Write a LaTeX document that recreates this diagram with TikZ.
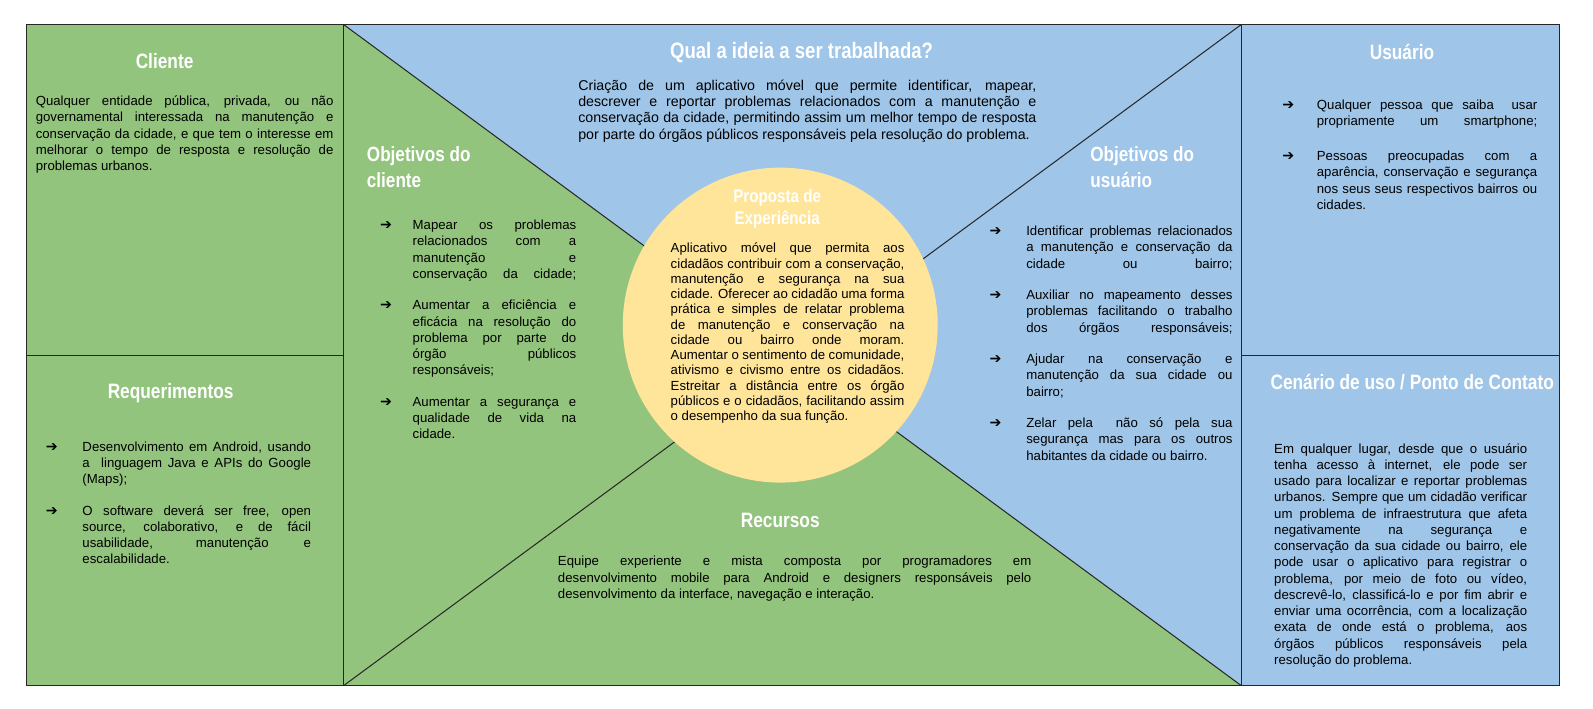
\documentclass[tikz,border=0pt]{standalone}
\usepackage{fontspec}
\setmainfont{Liberation Sans}
\newfontfamily\headfont[FakeStretch=0.83]{Liberation Sans}
\newfontfamily\arrowfont{DejaVu Sans}
\definecolor{canvasgreen}{HTML}{93C47D}
\definecolor{canvasblue}{HTML}{9FC5E8}
\definecolor{canvasyellow}{HTML}{FFE599}
\newcommand{\justlast}{{\parfillskip=0pt\par}}
\tolerance=10000
\hyphenpenalty=10000
\begin{document}
\begin{tikzpicture}[x=1pt, y=-1pt,
  frame/.style={draw=black!85, line width=1pt},
  head/.style={font=\headfont\bfseries\fontsize{20.5}{25}\selectfont, text=white, inner sep=0pt, anchor=base},
  body/.style={font=\fontsize{13}{16}\selectfont, align=justify, text width=#1, inner sep=0pt, anchor=base west},
  pointer/.style={font=\arrowfont\fontsize{14}{16}\selectfont, inner sep=0pt, anchor=base west}
]
\useasboundingbox (0,0) rectangle (1568,697);
\fill[white] (0,0) rectangle (1568,697);
% corners of the middle block
\coordinate (tl) at (338,24);
\coordinate (tr) at (1222,24);
\coordinate (bl) at (338,675);
\coordinate (br) at (1222,675);
\coordinate (mid) at (780,349.5);
% side columns
\draw[frame, fill=canvasgreen] (26,24) rectangle (338,350);
\draw[frame, fill=canvasgreen] (26,350) rectangle (338,675);
\draw[frame, fill=canvasblue] (1222,24) rectangle (1535,350);
\draw[frame, fill=canvasblue] (1222,350) rectangle (1535,675);
% middle block
\fill[canvasblue] (tl) -- (tr) -- (mid) -- cycle;
\fill[canvasblue] (tr) -- (br) -- (mid) -- cycle;
\fill[canvasgreen] (tl) -- (bl) -- (mid) -- cycle;
\fill[canvasgreen] (bl) -- (br) -- (mid) -- cycle;
\draw[frame] (tl) -- (mid) -- (br);
\draw[frame] (tr) -- (mid) -- (bl);
\draw[frame] (tl) rectangle (br);
\node[circle, fill=canvasyellow, minimum size=310, inner sep=0pt] (prop) at (768,320) {};

% titles
\node[head] (cliente) at (162,67) {Cliente};
\node[head] (req) at (168,392) {Requerimentos};
\node[head, font=\headfont\bfseries\fontsize{22}{26}\selectfont] (ideia) at (789,58) {Qual a ideia a ser trabalhada?};
\node[head, anchor=north west, align=left, font=\headfont\bfseries\fontsize{20.3}{26}\selectfont] (objcli) at (361,144) {Objetivos do\\cliente};
\node[head, anchor=north, align=center, font=\headfont\bfseries\fontsize{18}{22}\selectfont] (proptitle) at (765,186) {Proposta de\\Experiência};
\node[head, anchor=north west, align=left, font=\headfont\bfseries\fontsize{20.3}{26}\selectfont] (objusu) at (1073,144) {Objetivos do\\usuário};
\node[head] (usuario) at (1380,59) {Usuário};
\node[head] (cenario) at (1390,383) {Cenário de uso / Ponto de Contato};
\node[head] (recursos) at (768,519) {Recursos};

% plain paragraphs
\node[body=293] (clientetxt) at (35,104) {Qualquer entidade pública, privada, ou não\linebreak governamental interessada na manutenção e\linebreak conservação da cidade, e que tem o interesse em\linebreak melhorar o tempo de resposta e resolução de\linebreak problemas urbanos.};
\node[body=451, font=\fontsize{14}{16}\selectfont] (ideiatxt) at (569,89) {Criação de um aplicativo móvel que permite identificar, mapear,\linebreak descrever e reportar problemas relacionados com a manutenção e\linebreak conservação da cidade, permitindo assim um melhor tempo de resposta\linebreak por parte do órgãos públicos responsáveis pela resolução do problema.};
\node[body=230, font=\fontsize{13}{15}\selectfont] (proptxt) at (660,249) {Aplicativo móvel que permita aos\linebreak cidadãos contribuir com a conservação,\linebreak manutenção e segurança na sua\linebreak cidade. Oferecer ao cidadão uma forma\linebreak prática e simples de relatar problema\linebreak de manutenção e conservação na\linebreak cidade ou bairro onde moram.\linebreak Aumentar o sentimento de comunidade,\linebreak ativismo e civismo entre os cidadãos.\linebreak Estreitar a distância entre os órgão\linebreak públicos e o cidadãos, facilitando assim\linebreak o desempenho da sua função.};
\node[body=249] (cenariotxt) at (1254,446) {Em qualquer lugar, desde que o usuário\linebreak tenha acesso à internet, ele pode ser\linebreak usado para localizar e reportar problemas\linebreak urbanos. Sempre que um cidadão verificar\linebreak um problema de infraestrutura que afeta\linebreak negativamente na segurança e\linebreak conservação da sua cidade ou bairro, ele\linebreak pode usar o aplicativo para registrar o\linebreak problema, por meio de foto ou vídeo,\linebreak descrevê-lo, classificá-lo e por fim abrir e\linebreak enviar uma ocorrência, com a localização\linebreak exata de onde está o problema, aos\linebreak órgãos públicos responsáveis pela\linebreak resolução do problema.};
\node[body=466] (recursostxt) at (549,557) {Equipe experiente e mista composta por programadores em\linebreak desenvolvimento mobile para Android e designers responsáveis pelo\linebreak desenvolvimento da interface, navegação e interação.};

% bullet lists
\foreach \y/\t [count=\k] in {444/{Desenvolvimento em Android, usando\linebreak a\ \ linguagem Java e APIs do Google\linebreak (Maps);},
  507/{O software deverá ser free, open\linebreak source, colaborativo, e de fácil\linebreak usabilidade, manutenção e\linebreak escalabilidade.}} {
  \node[pointer] (reqp\k) at (45,\y) {➔};
  \node[body=225] (reqt\k) at (81,\y) {\t};
}
\foreach \y/\t [count=\k] in {226/{Mapear os problemas\linebreak relacionados com a\linebreak manutenção e\linebreak conservação da cidade;\justlast},
  305/{Aumentar a eficiência e\linebreak eficácia na resolução do\linebreak problema por parte do\linebreak órgão públicos\linebreak responsáveis;},
  400/{Aumentar a segurança e\linebreak qualidade de vida na\linebreak cidade.}} {
  \node[pointer] (oclip\k) at (374,\y) {➔};
  \node[body=161] (oclit\k) at (406,\y) {\t};
}
\foreach \y/\t [count=\k] in {232/{Identificar problemas relacionados\linebreak a manutenção e conservação da\linebreak cidade ou bairro;\justlast},
  295/{Auxiliar no mapeamento desses\linebreak problemas facilitando o trabalho\linebreak dos órgãos responsáveis;\justlast},
  358/{Ajudar na conservação e\linebreak manutenção da sua cidade ou\linebreak bairro;},
  421/{Zelar pela\ \ não só pela sua\linebreak segurança mas para os outros\linebreak habitantes da cidade ou bairro.}} {
  \node[pointer] (ousup\k) at (974,\y) {➔};
  \node[body=203] (ousut\k) at (1010,\y) {\t};
}
\foreach \y/\t [count=\k] in {108/{Qualquer pessoa que saiba\ \ usar\linebreak propriamente um smartphone;\justlast},
  158/{Pessoas preocupadas com a\linebreak aparência, conservação e segurança\linebreak nos seus seus respectivos bairros ou\linebreak cidades.}} {
  \node[pointer] (usup\k) at (1262,\y) {➔};
  \node[body=217] (usut\k) at (1296,\y) {\t};
}
\end{tikzpicture}
\end{document}
